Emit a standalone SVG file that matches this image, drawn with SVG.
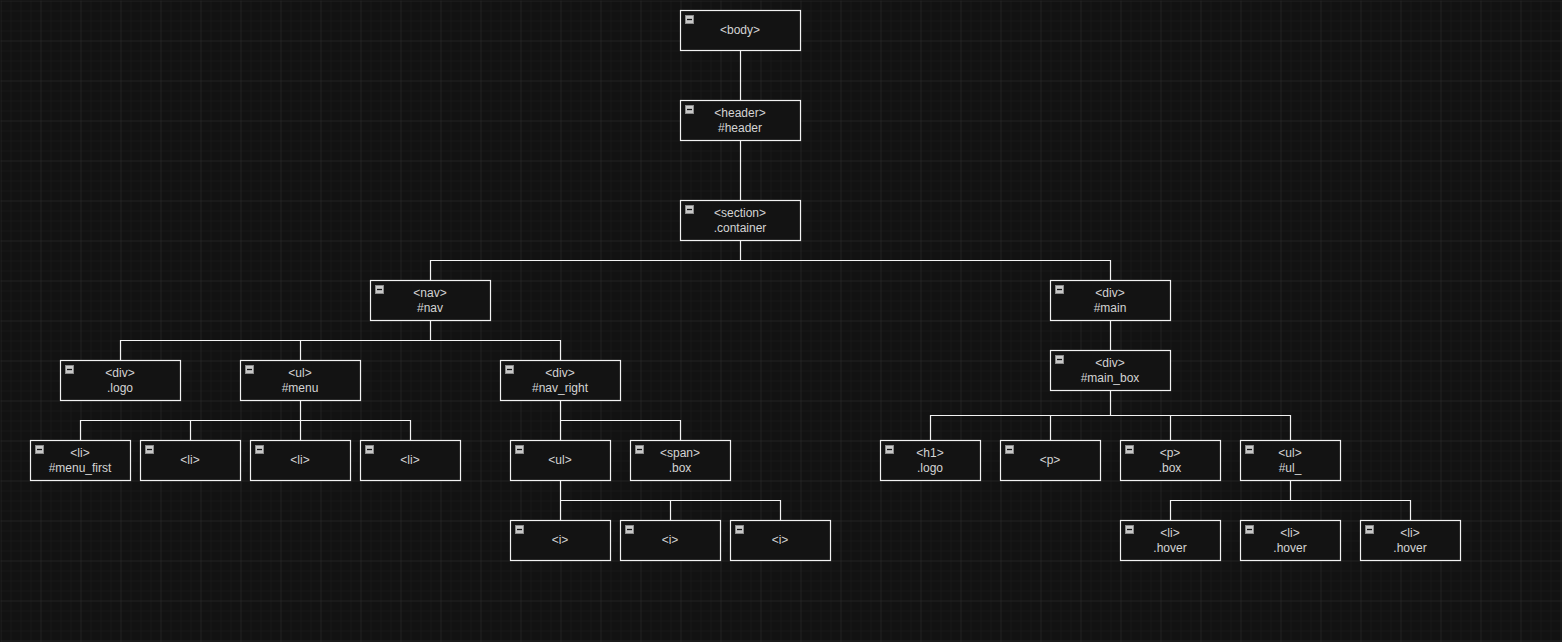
<svg xmlns="http://www.w3.org/2000/svg" width="1562" height="642" viewBox="0 0 1562 642">
<style>
.n rect.b{fill:#131313;stroke:#f2f2f2;stroke-width:1.2}
.n text{font-family:"Liberation Sans",Arial,sans-serif;font-size:12px;fill:#d4d4d4;text-anchor:middle}
.c path{fill:none;stroke:#f2f2f2;stroke-width:1.2}
</style>
<defs>
<pattern id="minor" width="10" height="10" patternUnits="userSpaceOnUse">
<path d="M10 0H0V10" fill="none" stroke="#1d1d1d" stroke-width="1"/>
</pattern>
<pattern id="major" width="40" height="40" patternUnits="userSpaceOnUse">
<rect width="40" height="40" fill="url(#minor)"/>
<path d="M40 0H0V40" fill="none" stroke="#2d2d2d" stroke-width="1"/>
</pattern>
<g id="ic">
<rect x="0.5" y="0.5" width="8" height="8" fill="#c8c8c8" stroke="#8a8a8a" stroke-width="1"/>
<path d="M2 4.5H7" stroke="#111" stroke-width="1.3"/>
</g>
</defs>
<rect width="1562" height="642" fill="#121212"/>
<rect width="1562" height="642" fill="url(#major)" transform="translate(0.5 0.5)"/>

<g class="c" id="connectors">
<path d="M740.5 50V100"/>
<path d="M740.5 140V200"/>
<path d="M740.5 240V260.5M430.5 280V260.5H1110.5V280"/>
<path d="M430.5 320V340.5M120.5 360V340.5H560.5V360M300.5 340.5V360"/>
<path d="M300.5 400V420.5M80.5 440V420.5H410.5V440M190.5 420.5V440M300.5 420.5V440"/>
<path d="M560.5 400V420.5H680.5V440M560.5 420.5V440"/>
<path d="M560.5 480V500.5H780.5V520M560.5 500.5V520M670.5 500.5V520"/>
<path d="M1110.5 320V350"/>
<path d="M1110.5 390V415.5M930.5 440V415.5H1290.5V440M1050.5 415.5V440M1170.5 415.5V440"/>
<path d="M1290.5 480V500.5M1170.5 520V500.5H1410.5V520"/>
</g>

<g class="n" id="body"><rect class="b" x="680.5" y="10.5" width="120" height="40"/><use href="#ic" x="685" y="15"/><text x="740" y="34">&lt;body&gt;</text></g>
<g class="n" id="header"><rect class="b" x="680.5" y="100.5" width="120" height="40"/><use href="#ic" x="685" y="105"/><text x="740" y="117">&lt;header&gt;</text><text x="740" y="132">#header</text></g>
<g class="n" id="section"><rect class="b" x="680.5" y="200.5" width="120" height="40"/><use href="#ic" x="685" y="205"/><text x="740" y="217">&lt;section&gt;</text><text x="740" y="232">.container</text></g>
<g class="n" id="nav"><rect class="b" x="370.5" y="280.5" width="120" height="40"/><use href="#ic" x="375" y="285"/><text x="430" y="297">&lt;nav&gt;</text><text x="430" y="312">#nav</text></g>
<g class="n" id="main"><rect class="b" x="1050.5" y="280.5" width="120" height="40"/><use href="#ic" x="1055" y="285"/><text x="1110" y="297">&lt;div&gt;</text><text x="1110" y="312">#main</text></g>
<g class="n" id="logo"><rect class="b" x="60.5" y="360.5" width="120" height="40"/><use href="#ic" x="65" y="365"/><text x="120" y="377">&lt;div&gt;</text><text x="120" y="392">.logo</text></g>
<g class="n" id="menu"><rect class="b" x="240.5" y="360.5" width="120" height="40"/><use href="#ic" x="245" y="365"/><text x="300" y="377">&lt;ul&gt;</text><text x="300" y="392">#menu</text></g>
<g class="n" id="nav_right"><rect class="b" x="500.5" y="360.5" width="120" height="40"/><use href="#ic" x="505" y="365"/><text x="560" y="377">&lt;div&gt;</text><text x="560" y="392">#nav_right</text></g>
<g class="n" id="main_box"><rect class="b" x="1050.5" y="350.5" width="120" height="40"/><use href="#ic" x="1055" y="355"/><text x="1110" y="367">&lt;div&gt;</text><text x="1110" y="382">#main_box</text></g>
<g class="n" id="menu_first"><rect class="b" x="30.5" y="440.5" width="100" height="40"/><use href="#ic" x="35" y="445"/><text x="80" y="457">&lt;li&gt;</text><text x="80" y="472">#menu_first</text></g>
<g class="n" id="li2"><rect class="b" x="140.5" y="440.5" width="100" height="40"/><use href="#ic" x="145" y="445"/><text x="190" y="464">&lt;li&gt;</text></g>
<g class="n" id="li3"><rect class="b" x="250.5" y="440.5" width="100" height="40"/><use href="#ic" x="255" y="445"/><text x="300" y="464">&lt;li&gt;</text></g>
<g class="n" id="li4"><rect class="b" x="360.5" y="440.5" width="100" height="40"/><use href="#ic" x="365" y="445"/><text x="410" y="464">&lt;li&gt;</text></g>
<g class="n" id="ul_nr"><rect class="b" x="510.5" y="440.5" width="100" height="40"/><use href="#ic" x="515" y="445"/><text x="560" y="464">&lt;ul&gt;</text></g>
<g class="n" id="span_box"><rect class="b" x="630.5" y="440.5" width="100" height="40"/><use href="#ic" x="635" y="445"/><text x="680" y="457">&lt;span&gt;</text><text x="680" y="472">.box</text></g>
<g class="n" id="i1"><rect class="b" x="510.5" y="520.5" width="100" height="40"/><use href="#ic" x="515" y="525"/><text x="560" y="544">&lt;i&gt;</text></g>
<g class="n" id="i2"><rect class="b" x="620.5" y="520.5" width="100" height="40"/><use href="#ic" x="625" y="525"/><text x="670" y="544">&lt;i&gt;</text></g>
<g class="n" id="i3"><rect class="b" x="730.5" y="520.5" width="100" height="40"/><use href="#ic" x="735" y="525"/><text x="780" y="544">&lt;i&gt;</text></g>
<g class="n" id="h1_logo"><rect class="b" x="880.5" y="440.5" width="100" height="40"/><use href="#ic" x="885" y="445"/><text x="930" y="457">&lt;h1&gt;</text><text x="930" y="472">.logo</text></g>
<g class="n" id="p1"><rect class="b" x="1000.5" y="440.5" width="100" height="40"/><use href="#ic" x="1005" y="445"/><text x="1050" y="464">&lt;p&gt;</text></g>
<g class="n" id="p_box"><rect class="b" x="1120.5" y="440.5" width="100" height="40"/><use href="#ic" x="1125" y="445"/><text x="1170" y="457">&lt;p&gt;</text><text x="1170" y="472">.box</text></g>
<g class="n" id="ul_"><rect class="b" x="1240.5" y="440.5" width="100" height="40"/><use href="#ic" x="1245" y="445"/><text x="1290" y="457">&lt;ul&gt;</text><text x="1290" y="472">#ul_</text></g>
<g class="n" id="hover1"><rect class="b" x="1120.5" y="520.5" width="100" height="40"/><use href="#ic" x="1125" y="525"/><text x="1170" y="537">&lt;li&gt;</text><text x="1170" y="552">.hover</text></g>
<g class="n" id="hover2"><rect class="b" x="1240.5" y="520.5" width="100" height="40"/><use href="#ic" x="1245" y="525"/><text x="1290" y="537">&lt;li&gt;</text><text x="1290" y="552">.hover</text></g>
<g class="n" id="hover3"><rect class="b" x="1360.5" y="520.5" width="100" height="40"/><use href="#ic" x="1365" y="525"/><text x="1410" y="537">&lt;li&gt;</text><text x="1410" y="552">.hover</text></g>
</svg>
